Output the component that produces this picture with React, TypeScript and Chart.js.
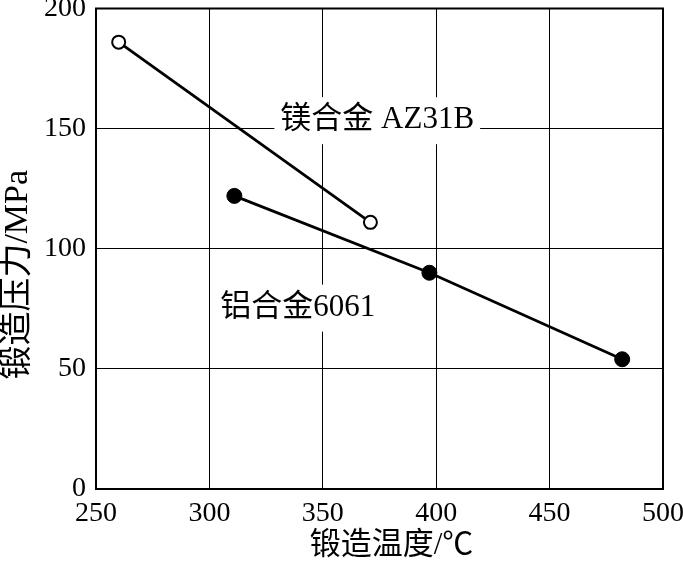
import React, { useEffect, useRef } from "react";
import { Chart, registerables } from "chart.js";

Chart.register(...registerables);

const mgTemps = [260, 371];
const mgPressures = [186, 111];
const alTemps = [311, 397, 482];
const alPressures = [122, 90, 54];
const xTicks = [250, 300, 350, 400, 450, 500];
const yTicks = [0, 50, 100, 150, 200];
const mgLabel = "镁合金 AZ31B";
const alLabel = "铝合金6061";
const mgLabelPos = [374, 153.5];
const alLabelPos = [339, 75.5];
const xTitle = "锻造温度/℃";
const yTitle = "锻造压力/MPa";

const FONT = "'Liberation Serif', 'Noto Sans CJK SC', serif";

const labelPlugin = {
  id: "inPlotLabels",
  beforeDatasetsDraw(chart: any) {
    const { ctx, scales } = chart;
    const xs = scales.x;
    const ys = scales.y;
    const draw = (text: string, pos: number[]) => {
      ctx.save();
      ctx.font = `31px ${FONT}`;
      ctx.textAlign = "center";
      ctx.textBaseline = "middle";
      const w = ctx.measureText(text).width;
      const cx = xs.getPixelForValue(pos[0]);
      const cy = ys.getPixelForValue(pos[1]);
      ctx.fillStyle = "#ffffff";
      ctx.fillRect(cx - w / 2 - 6, cy - 23, w + 12, 47);
      ctx.fillStyle = "#000000";
      ctx.fillText(text, cx, cy);
      ctx.restore();
    };
    draw(mgLabel, mgLabelPos);
    draw(alLabel, alLabelPos);
  },
  afterDraw(chart: any) {
    const { ctx, chartArea } = chart;
    ctx.save();
    ctx.strokeStyle = "#000";
    ctx.lineWidth = 2;
    ctx.strokeRect(chartArea.left, chartArea.top, chartArea.right - chartArea.left, chartArea.bottom - chartArea.top);
    ctx.fillStyle = "#000";
    ctx.font = `31px ${FONT}`;
    ctx.textAlign = "center";
    ctx.textBaseline = "middle";
    ctx.fillText(xTitle, (chartArea.left + chartArea.right) / 2 + 12, chart.height - 23);
    ctx.font = `34px ${FONT}`;
    ctx.translate(18, (chartArea.top + chartArea.bottom) / 2 + 26);
    ctx.rotate(-Math.PI / 2);
    ctx.fillText(yTitle, 0, 0);
    ctx.restore();
  },
};

export default function App() {
  const ref = useRef<HTMLCanvasElement | null>(null);
  useEffect(() => {
    if (!ref.current) return;
    const chart = new Chart(ref.current, {
      type: "scatter",
      data: {
        datasets: [
          {
            label: mgLabel,
            data: mgTemps.map((t, i) => ({ x: t, y: mgPressures[i] })),
            showLine: true,
            borderColor: "#000",
            borderWidth: 2.8,
            pointBackgroundColor: "#fff",
            pointBorderColor: "#000",
            pointBorderWidth: 2,
            pointRadius: 6.5,
          },
          {
            label: alLabel,
            data: alTemps.map((t, i) => ({ x: t, y: alPressures[i] })),
            showLine: true,
            borderColor: "#000",
            borderWidth: 2.8,
            pointBackgroundColor: "#000",
            pointBorderColor: "#000",
            pointBorderWidth: 1,
            pointRadius: 7.5,
          },
        ],
      },
      options: {
        animation: false,
        responsive: false,
        layout: { padding: { top: 6, right: 20, left: 0, bottom: 0 } },
        plugins: { legend: { display: false }, tooltip: { enabled: false } },
        scales: {
          x: {
            type: "linear",
            min: 250,
            max: 500,
            afterBuildTicks: (s: any) => {
              s.ticks = xTicks.map((v) => ({ value: v }));
            },
            afterFit: (s: any) => {
              s.height = 80;
              s.paddingLeft = 0;
              s.paddingRight = 0;
            },
            grid: { color: "#000", lineWidth: 1, drawTicks: false },
            border: { display: true, color: "#000", width: 2 },
            ticks: { color: "#000", padding: 8, font: { family: FONT, size: 28 }, maxRotation: 0 },
          },
          y: {
            type: "linear",
            min: 0,
            max: 200,
            afterBuildTicks: (s: any) => {
              s.ticks = yTicks.map((v) => ({ value: v }));
            },
            afterFit: (s: any) => {
              s.width = 96;
              s.paddingTop = 0;
              s.paddingBottom = 0;
            },
            grid: { color: "#000", lineWidth: 1, drawTicks: false },
            border: { display: true, color: "#000", width: 2 },
            ticks: { color: "#000", padding: 10, font: { family: FONT, size: 28 } },
          },
        },
      },
      plugins: [labelPlugin],
    });
    return () => chart.destroy();
  }, []);
  return (
    <div style={{ position: "absolute", left: 0, top: 0, width: 683, height: 569, background: "#fff" }}>
      <canvas ref={ref} width={683} height={569} style={{ width: 683, height: 569 }} />
    </div>
  );
}
